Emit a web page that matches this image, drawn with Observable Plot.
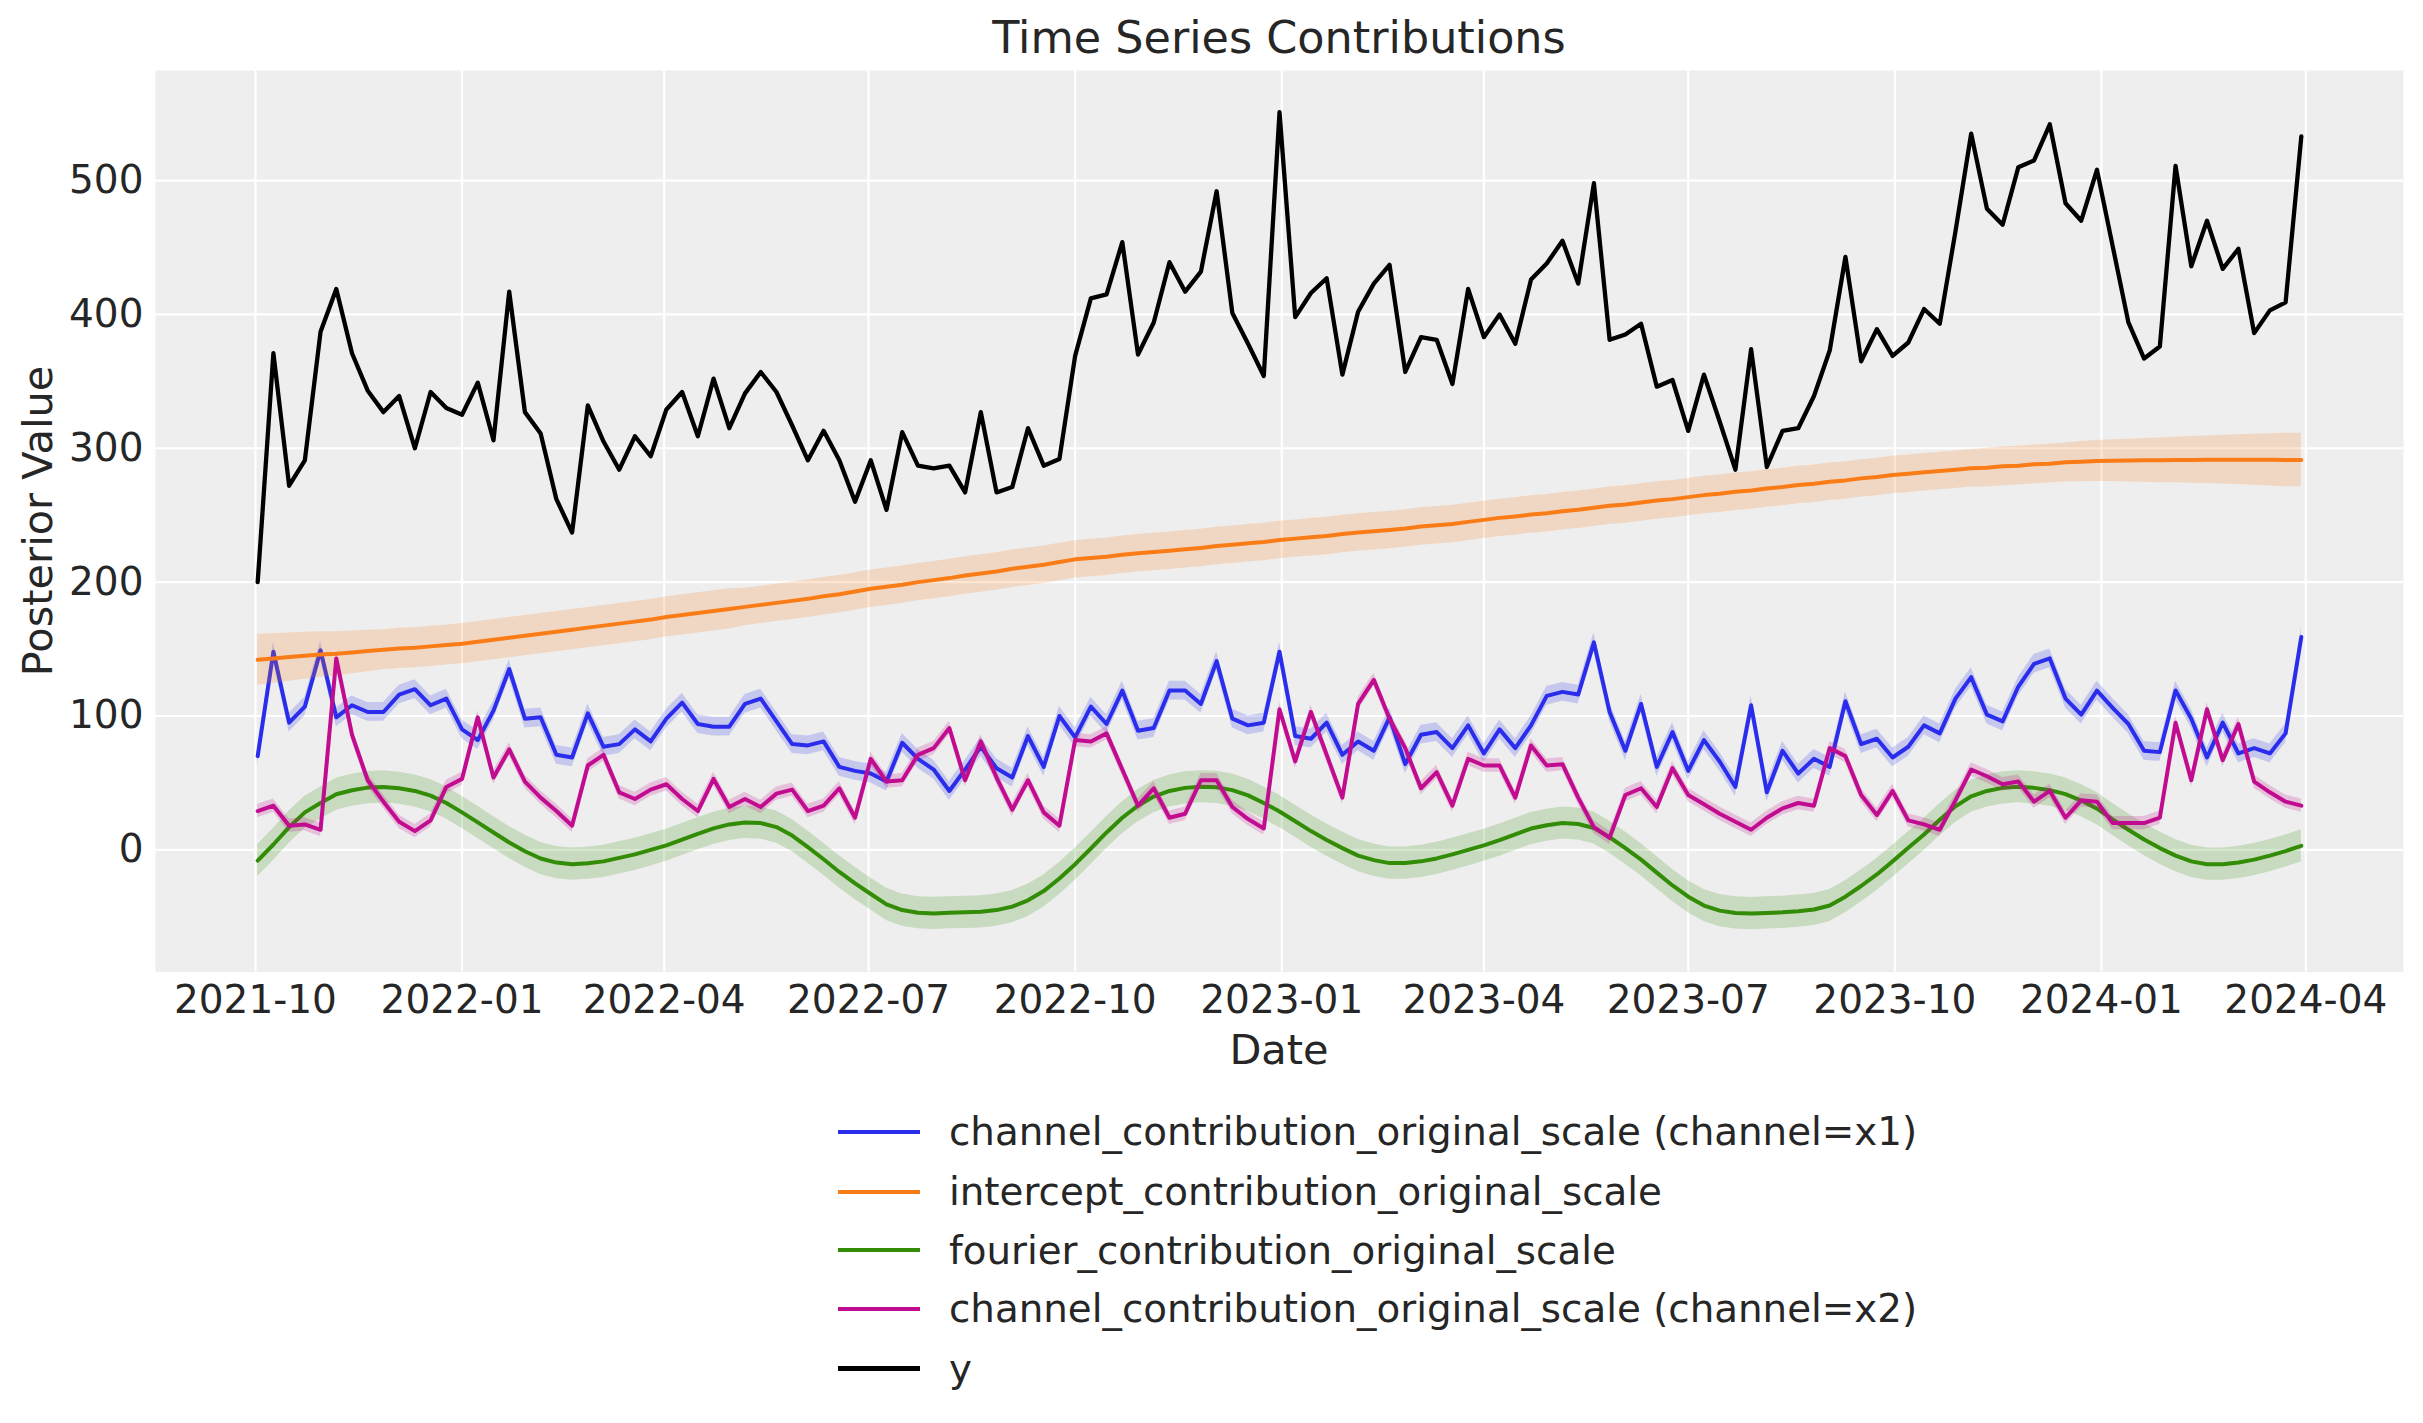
<!DOCTYPE html>
<html><head><meta charset="utf-8">
<script src="https://cdn.jsdelivr.net/npm/d3@7"></script>
<script src="https://cdn.jsdelivr.net/npm/@observablehq/plot@0.6"></script>
<style>
body{margin:0;background:#fff;}
#fig{position:relative;width:2423px;height:1423px;font-family:"DejaVu Sans",sans-serif;color:#262626;overflow:hidden;background:#fff}
#fig svg{position:absolute;left:0;top:0}
.t{position:absolute;line-height:1;white-space:nowrap}
</style></head><body><div id="fig"></div>
<script>
// ---- data (weekly, starting Saturday 2021-10-02) ----
const startDate = "2021-10-02";
const yObserved = [
200,371,272,291,387,419,371,343,327,339,
300,342,330,325,349,306,417,327,311,262,
237,332,305,284,309,294,329,342,309,352,
315,341,357,342,317,291,313,291,260,291,
254,312,287,285,287,267,327,267,271,315,
287,292,369,412,415,454,370,394,439,417,
432,492,401,378,354,551,398,416,427,355,
402,423,437,357,383,381,348,419,383,400,
378,426,438,455,423,498,381,385,393,346,
351,313,355,320,284,374,286,313,315,339,
373,443,365,389,369,379,404,393,462,535,
479,467,510,515,542,483,470,508,451,394,
367,376,511,436,470,434,449,386,403,409,
533];
const x1Contribution = [
70,148,95,107,149,99,108,103,103,116,
120,108,113,90,82,104,135,98,99,71,
69,102,77,79,90,81,98,110,94,92,
92,109,113,96,79,78,81,62,59,57,
51,80,68,60,44,60,77,61,54,85,
62,100,84,107,94,119,89,91,119,119,
109,141,98,93,95,148,85,83,95,71,
81,74,99,64,86,88,76,93,72,90,
76,93,115,118,116,155,103,74,109,62,
88,59,82,66,47,108,43,74,57,68,
62,111,79,83,69,77,93,87,113,129,
101,96,122,139,143,113,101,119,106,94,
74,73,119,98,69,95,72,76,72,87,
159];
const x2Contribution = [
29,33,18,19,15,143,86,52,36,21,
14,22,47,53,99,54,75,51,39,29,
18,63,71,43,38,45,49,38,29,53,
32,38,32,42,45,29,33,46,24,68,
51,52,71,76,91,52,81,54,30,52,
28,18,82,81,87,60,33,46,24,27,
52,52,32,23,16,105,66,103,71,39,
109,127,98,76,46,58,33,68,63,63,
39,78,63,64,39,17,9,41,46,32,
61,41,34,27,21,15,24,31,35,33,
76,70,41,26,44,22,19,15,37,60,
55,49,51,36,44,24,37,36,20,20,
20,24,95,52,105,67,94,51,43,36,
33];
const interceptContribution = [
142,143,144,145,146,146.5,147.5,148.5,149.5,150.5,
151,152,153,154,155.5,157,158.5,160,161.5,163,
164.5,166,167.5,169,170.5,172,174,175.5,177,178.5,
180,181.5,183,184.5,186,187.5,189.5,191,193,195,
196.5,198,200,201.5,203,205,206.5,208,210,211.5,
213,215,217,218,219,220.5,221.5,222.5,223.5,224.5,
225.5,227,228,229,230,231.5,232.5,233.5,234.5,236,
237,238,239,240,241.5,242.5,243.5,245,246.5,248,
249,250.5,251.5,253,254,255.5,257,258,259.5,261,
262,263.5,265,266,267.5,268.5,270,271,272.5,273.5,
275,276,277.5,278.5,280,281,282,283,284,285,
285.5,286.5,287,288,288.5,289.5,290,290.5,290.7,290.8,
291,291,291.2,291.3,291.4,291.5,291.5,291.4,291.4,291.3,
291.3];
const interceptHdiHalf = [
19,18.5,18,17.5,17,16.5,16,15.5,15,15,
15,15,15,15,15,15,15,15,15,15,
15,15,15,15,15,15,15,15,15,15,
15,14,14,14,14,14,14,14,14,14,
14,14,14,14,14,14,14,14,14,14,
14,14,14,14,14,14,14,14,14,14,
14,14,14,14,14,14,14,14,14,14,
14,14,14,14,14,14,14,14,14,14,
14,14,14,14,14,14,14,14,14,14,
14,14,14,14,14,14,14,14,14,14,
14,14,14,14,14,14,14,14,14,14,
14.5,14.5,14.5,14.5,14.5,14.5,15,15.3,15.6,16,
16.3,16.7,17,17.4,17.8,18.2,18.6,19,19.5,20,
20];
const fourierContribution = [
-8,4,17,28,35,41.5,44.5,46.5,47,46,
44,40.5,35,28,20.5,13,5.5,-1,-6.5,-9.5,
-10.7,-10,-8.6,-6,-3.4,0,3.4,7.7,12,16,
19,20.5,20,17,10.7,2,-7,-16.5,-25,-33,
-40.7,-45,-47,-47.5,-47,-46.7,-46.3,-45,-42.4,-37.7,
-30.8,-21.4,-10.7,1,13,24,33,39.8,44,46.3,
47.1,46.7,44.6,40.7,35,28.7,21.4,14,7.3,1.3,
-4.3,-7.7,-9.9,-9.9,-8.6,-6.4,-3.4,0,3.4,7.3,
11.6,15.9,18.4,20.1,19.3,16.3,9.4,1.3,-7.3,-17,
-26.6,-35,-41.6,-45.4,-47.1,-47.6,-47.1,-46.7,-45.8,-44.6,
-41.6,-35,-27,-18.4,-8.6,1.5,11.5,22.5,32.5,40,
44,46.3,47.1,46.3,44.6,41.6,36.8,30.8,22.7,15,
7.7,1.3,-4.3,-8.6,-10.7,-10.7,-9.4,-7.3,-4.3,-0.9,
3];
const x1HdiHalf = 7;
const x2HdiHalf = 5;
const fourierHdiHalf = 12;
const xTickLabels = ["2021-10","2022-01","2022-04","2022-07","2022-10","2023-01","2023-04","2023-07","2023-10","2024-01","2024-04"];
const yTicks = [0,100,200,300,400,500];
const legendLabels = [
  "channel_contribution_original_scale (channel=x1)",
  "intercept_contribution_original_scale",
  "fourier_contribution_original_scale",
  "channel_contribution_original_scale (channel=x2)",
  "y"];
const legendColors = ["#2a2eec","#fa7c17","#328c06","#c10c90","#000000"];
const titleText = "Time Series Contributions";
const xLabel = "Date";
const yLabel = "Posterior Value";

// ---- build ----
const start = new Date(startDate + "T00:00:00Z");
const rows = yObserved.map((v, i) => ({
  date: d3.utcDay.offset(start, 7 * i),
  y: v, x1: x1Contribution[i], x2: x2Contribution[i],
  intercept: interceptContribution[i], interceptHalf: interceptHdiHalf[i],
  fourier: fourierContribution[i]
}));
const xTickDates = xTickLabels.map(s => new Date(s + "-01T00:00:00Z"));
const [c1, cI, cF, c2, cY] = legendColors;
const LW = 4;

const plot = Plot.plot({
  width: 2423, height: 1100,
  marginTop: 70, marginBottom: 128.3, marginLeft: 155, marginRight: 20,
  style: {fontFamily: "DejaVu Sans, sans-serif", fontSize: "39px", color: "#262626", background: "transparent", overflow: "visible"},
  x: {type: "utc", domain: [new Date("2021-08-17T12:00:00Z"), new Date("2024-05-14T12:00:00Z")],
      ticks: xTickDates, tickFormat: d3.utcFormat("%Y-%m"), tickSize: 0, tickPadding: 13, label: null},
  y: {domain: [-91.4, 582.2], ticks: yTicks, tickFormat: d3.format("d"), tickSize: 0, tickPadding: 12, label: null},
  marks: [
    Plot.frame({fill: "#eeeeee", stroke: "none"}),
    Plot.gridX(xTickDates, {stroke: "#ffffff", strokeOpacity: 1, strokeWidth: 2.2}),
    Plot.gridY(yTicks, {stroke: "#ffffff", strokeOpacity: 1, strokeWidth: 2.2}),
    Plot.areaY(rows, {x: "date", y1: d => d.x1 - x1HdiHalf, y2: d => d.x1 + x1HdiHalf, fill: c1, fillOpacity: 0.2}),
    Plot.lineY(rows, {x: "date", y: "x1", stroke: c1, strokeWidth: LW}),
    Plot.areaY(rows, {x: "date", y1: d => d.intercept - d.interceptHalf, y2: d => d.intercept + d.interceptHalf, fill: cI, fillOpacity: 0.2}),
    Plot.lineY(rows, {x: "date", y: "intercept", stroke: cI, strokeWidth: LW}),
    Plot.areaY(rows, {x: "date", y1: d => d.fourier - fourierHdiHalf, y2: d => d.fourier + fourierHdiHalf, fill: cF, fillOpacity: 0.2}),
    Plot.lineY(rows, {x: "date", y: "fourier", stroke: cF, strokeWidth: LW}),
    Plot.areaY(rows, {x: "date", y1: d => d.x2 - x2HdiHalf, y2: d => d.x2 + x2HdiHalf, fill: c2, fillOpacity: 0.2}),
    Plot.lineY(rows, {x: "date", y: "x2", stroke: c2, strokeWidth: LW}),
    Plot.lineY(rows, {x: "date", y: "y", stroke: cY, strokeWidth: 4.3})
  ]
});

const fig = document.getElementById("fig");
fig.appendChild(plot);

function addText(txt, size, left, top, transform) {
  const d = document.createElement("div");
  d.className = "t";
  d.textContent = txt;
  d.style.fontSize = size + "px";
  d.style.left = left + "px";
  d.style.top = top + "px";
  if (transform) d.style.transform = transform;
  fig.appendChild(d);
  return d;
}
addText(titleText, 44.5, 1279, 54 - 0.846 * 44.5, "translateX(-50%)");
addText(xLabel, 41.5, 1279, 1064 - 0.846 * 41.5, "translateX(-50%)");
addText(yLabel, 41.5, 38, 521, "translate(-50%,-50%) rotate(-90deg)");

const legendRowY = [1132, 1191.5, 1250.4, 1309, 1368.5];
legendLabels.forEach((lab, i) => {
  const h = document.createElement("div");
  const w = i === 4 ? 4.3 : LW;
  h.style.cssText = `position:absolute;left:838px;width:82px;height:${w}px;top:${legendRowY[i] - w / 2}px;background:${legendColors[i]}`;
  fig.appendChild(h);
  addText(lab, 38.8, 949, legendRowY[i] + 14.3 - 0.846 * 38.8);
});
</script></body></html>
